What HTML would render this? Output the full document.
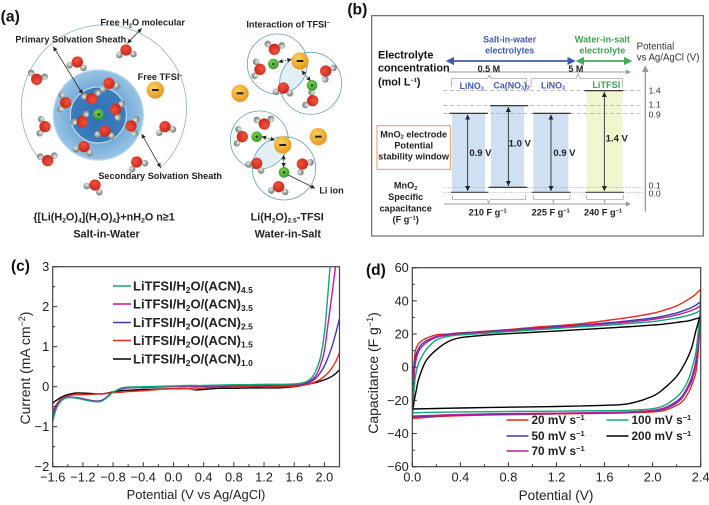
<!DOCTYPE html>
<html lang="en">
<head>
<meta charset="utf-8">
<title>Electrolyte figure</title>
<style>
html,body{margin:0;padding:0;background:#fff;}
body{width:709px;height:505px;overflow:hidden;}
svg{display:block;font-family:"Liberation Sans",sans-serif;}
.lbl{font-weight:bold;fill:#222;font-size:27.5px;}
.tick{font-size:12.8px;fill:#222;}
.title{font-size:13px;fill:#222;}
.ytitle{font-size:14px;fill:#222;}
.panel{font-size:15.5px;font-weight:bold;fill:#111;}
</style>
</head>
<body>
<svg id="fig" width="709" height="505" viewBox="0 0 709 505" xmlns="http://www.w3.org/2000/svg">
<defs>
<radialGradient id="gO" cx=".4" cy=".35" r=".7"><stop offset="0" stop-color="#f0523c"/><stop offset="1" stop-color="#c9251b"/></radialGradient>
<radialGradient id="gH" cx=".4" cy=".35" r=".7"><stop offset="0" stop-color="#e8ece9"/><stop offset="1" stop-color="#66716c"/></radialGradient>
<radialGradient id="gT" cx=".4" cy=".35" r=".7"><stop offset="0" stop-color="#fbd25c"/><stop offset="1" stop-color="#e5921c"/></radialGradient>
<radialGradient id="gL" cx=".4" cy=".35" r=".7"><stop offset="0" stop-color="#7fd048"/><stop offset="1" stop-color="#2e9a2c"/></radialGradient>
<radialGradient id="gDisc" cx=".5" cy=".5" r=".5"><stop offset="0" stop-color="#2f74b8"/><stop offset=".6" stop-color="#4f8fca"/><stop offset=".62" stop-color="#76acd9"/><stop offset="1" stop-color="#97c4e4"/></radialGradient>
<clipPath id="clipBubble1"><circle cx="832" cy="192" r="90"/></clipPath>
<clipPath id="clipBubble3"><circle cx="778" cy="420" r="87"/></clipPath>
<g id="water"><circle cx="-20" cy="15" r="10" fill="url(#gH)"/><circle cx="22" cy="12" r="10" fill="url(#gH)"/><circle r="17" fill="url(#gO)"/></g>
<g id="tfsi"><circle r="26" fill="url(#gT)"/><rect x="-10" y="-3" width="20" height="6" fill="#222"/></g>
<g id="li"><circle r="16" fill="url(#gL)"/><circle r="3.5" fill="#222"/></g>
<marker id="ah" markerWidth="7" markerHeight="7" refX="6" refY="3" orient="auto-start-reverse"><path d="M0 0L6 3L0 6z" fill="#222"/></marker>
<marker id="ahB" markerWidth="5" markerHeight="5" refX="4" refY="2.5" orient="auto-start-reverse"><path d="M0 0L5 2.5L0 5z" fill="#3f5bb0"/></marker>
<marker id="ahG" markerWidth="5" markerHeight="5" refX="4" refY="2.5" orient="auto-start-reverse"><path d="M0 0L5 2.5L0 5z" fill="#3fae55"/></marker>
<marker id="ahA" markerWidth="5" markerHeight="5" refX="4" refY="2.5" orient="auto-start-reverse"><path d="M0 0L5 2.5L0 5z" fill="#999"/></marker>
</defs>

<!-- Panel a -->
<g id="panel-a" transform="scale(.33333)">
<text x="2" y="64" font-size="47" font-weight="bold" fill="#111">(a)</text>
<path d="M120 480A248 248 0 1 1 480 505" fill="none" stroke="#8fb6c8" stroke-width="2.5"/>
<circle cx="295" cy="345" r="135" fill="url(#gDisc)" stroke="#b7d7ea" stroke-width="4"/>
<circle cx="295" cy="345" r="84" fill="#2f6fb4" fill-opacity=".6" stroke="#cfe4f2" stroke-width="3"/>
<circle cx="932" cy="250" r="93" fill="#e2eff6" clip-path="url(#clipBubble1)"/>
<circle cx="852" cy="505" r="95" fill="#e2eff6" clip-path="url(#clipBubble3)"/>
<g fill="none" stroke="#6f9fb8" stroke-width="2.5">
<circle cx="832" cy="192" r="90"/>
<circle cx="932" cy="250" r="93"/>
<circle cx="778" cy="420" r="87"/>
<circle cx="852" cy="505" r="95"/>
</g>
<g id="waters"></g>
<g>
<use href="#li" x="296" y="343"/><use href="#li" x="820" y="192"/><use href="#li" x="936" y="256"/><use href="#li" x="770" y="410"/><use href="#li" x="852" y="517"/>
<use href="#tfsi" x="466" y="270"/><use href="#tfsi" x="720" y="280"/><use href="#tfsi" x="900" y="183"/><use href="#tfsi" x="848" y="435"/><use href="#tfsi" x="955" y="410"/>
</g>
<g fill="none" stroke="#222" stroke-width="2.2" marker-end="url(#ah)">
<path d="M382 130L425 85" marker-start="url(#ah)"/>
<path d="M248 282L160 140" marker-start="url(#ah)"/>
<path d="M425 402L482 503" marker-start="url(#ah)"/>
<path d="M865 525L945 565"/>
<path d="M835 186L875 178" stroke-dasharray="4 3" marker-start="url(#ah)"/>
<path d="M905 212L932 243" stroke-dasharray="4 3" marker-start="url(#ah)"/>
<path d="M785 410L825 420" stroke-dasharray="4 3" marker-start="url(#ah)"/>
<path d="M851 465L851 502" stroke-dasharray="4 3" marker-start="url(#ah)"/>
</g>
<g class="lbl">
<text x="301" y="77">Free H<tspan font-size="17" dy="5">2</tspan><tspan dy="-5">O molecular</tspan></text>
<text x="46" y="128">Primary Solvation Sheath</text>
<text x="413" y="240">Free TFSI<tspan font-size="17" dy="-8">−</tspan></text>
<text x="295" y="537">Secondary Solvation Sheath</text>
<text x="739" y="82">Interaction of TFSI<tspan font-size="17" dy="-8">−</tspan></text>
<text x="958" y="580">Li ion</text>
<g font-size="32.5">
<text x="100" y="662">{[Li(H<tspan font-size="20" dy="6">2</tspan><tspan dy="-6">O)</tspan><tspan font-size="20" dy="6">4</tspan><tspan dy="-6">](H</tspan><tspan font-size="20" dy="6">2</tspan><tspan dy="-6">O)</tspan><tspan font-size="20" dy="6">4</tspan><tspan dy="-6">}+nH</tspan><tspan font-size="20" dy="6">2</tspan><tspan dy="-6">O n≥1</tspan></text>
<text x="220" y="713">Salt-in-Water</text>
<text x="752" y="662">Li(H<tspan font-size="20" dy="6">2</tspan><tspan dy="-6">O)</tspan><tspan font-size="20" dy="6">2.5</tspan><tspan dy="-6">-TFSI</tspan></text>
<text x="764" y="713">Water-in-Salt</text>
</g>
</g>
</g>

<!-- Panel b -->
<g id="panel-b" transform="translate(350,0) scale(.33333)">
<text x="-8" y="44" font-size="47" font-weight="bold" fill="#111">(b)</text>
<rect x="65" y="47" width="995" height="661" fill="#fff" stroke="#666" stroke-width="3.5"/>
<rect x="306" y="340" width="99" height="237" fill="#cfe0f3"/>
<rect x="423" y="317" width="99" height="245" fill="#cfe0f3"/>
<rect x="550" y="340" width="105" height="237" fill="#cfe0f3"/>
<rect x="710" y="272" width="107" height="305" fill="#f1f6cf"/>
<g stroke="#999" stroke-width="2" fill="none">
<path d="M280 272H880" stroke-dasharray="12 8"/>
<path d="M280 317H880" stroke-dasharray="12 8"/>
<path d="M280 340H880" stroke-dasharray="12 8"/>
<path d="M280 562H880" stroke-dasharray="3 4"/>
<path d="M280 577H880" stroke-dasharray="3 4"/>
<path d="M292 216H840" stroke-width="3" marker-end="url(#ahA)"/>
<path d="M282 612H840" stroke-width="3" marker-end="url(#ahA)"/>
<path d="M886 635V200" stroke-width="4" marker-end="url(#ahA)"/>
<path d="M305 262V236H412L418 226L424 236H530V262"/>
<path d="M543 262V236H678L684 222L690 236H818V262"/>
<path d="M307 585V598H412L416 610L420 598H527V585"/>
<path d="M550 585V598H608L610 610L612 598H660V585"/>
<path d="M710 585V598H762L764 610L766 598H820V585"/>
</g>
<g stroke="#222" stroke-width="3.5">
<path d="M298 340H414M420 317H535M548 340H662M703 272H820M416 562H532"/>
<path d="M303 577H415M545 577H662M706 577H822" stroke="#444"/>
</g>
<g stroke="#222" stroke-width="2.5" marker-start="url(#ah)" marker-end="url(#ah)">
<path d="M353 344V573"/><path d="M475 321V558"/><path d="M603 344V573"/><path d="M763 276V573"/>
</g>
<path d="M292 183H672" stroke="#3f5bb0" stroke-width="5" marker-start="url(#ahB)" marker-end="url(#ahB)"/>
<path d="M682 183H842" stroke="#3fae55" stroke-width="5" marker-start="url(#ahG)" marker-end="url(#ahG)"/>
<rect x="81" y="377" width="220" height="131" fill="#fff" stroke="#e8976a" stroke-width="3"/>
<g class="lbl">
<g font-size="32.5" fill="#111">
<text x="84" y="175">Electrolyte</text>
<text x="84" y="214">concentration</text>
<text x="84" y="256">(mol L<tspan font-size="17" dy="-10">−1</tspan><tspan dy="10">)</tspan></text>
</g>
<text x="383" y="216" font-size="27">0.5 M</text>
<text x="655" y="216" font-size="27">5 M</text>
<g text-anchor="middle" fill="#3f5bb0" font-size="26.5">
<text x="479" y="128">Salt-in-water</text>
<text x="479" y="161">electrolytes</text>
<text x="365" y="267">LiNO<tspan font-size="16" dy="4">3</tspan></text>
<text x="485" y="265">Ca(NO<tspan font-size="16" dy="4">3</tspan><tspan dy="-4">)</tspan><tspan font-size="16" dy="4">2</tspan></text>
<text x="609" y="265">LiNO<tspan font-size="16" dy="4">3</tspan></text>
</g>
<g text-anchor="middle" fill="#3fa04f" font-size="27.5">
<text x="757" y="128">Water-in-salt</text>
<text x="757" y="161">electrolyte</text>
<text x="769" y="264">LiTFSI</text>
</g>
<g text-anchor="middle">
<text x="191" y="412">MnO<tspan font-size="17" dy="4">2</tspan><tspan dy="-4"> electrode</tspan></text>
<text x="191" y="446">Potential</text>
<text x="191" y="478">stability window</text>
<text x="167" y="566">MnO<tspan font-size="17" dy="4">2</tspan></text>
<text x="167" y="600">Specific</text>
<text x="167" y="634">capacitance</text>
<text x="167" y="668">(F g<tspan font-size="17" dy="-9">−1</tspan><tspan dy="9">)</tspan></text>
</g>
<g font-size="28.5">
<text x="358" y="468">0.9 V</text>
<text x="476" y="440">1.0 V</text>
<text x="610" y="468">0.9 V</text>
<text x="767" y="424">1.4 V</text>
</g>
<text x="356" y="646">210 F g<tspan font-size="17" dy="-9">−1</tspan></text>
<text x="545" y="646">225 F g<tspan font-size="17" dy="-9">−1</tspan></text>
<text x="702" y="646">240 F g<tspan font-size="17" dy="-9">−1</tspan></text>
</g>
<g font-size="26" fill="#333">
<text x="860" y="148" font-size="29">Potential</text>
<text x="860" y="182" font-size="29">vs Ag/AgCl (V)</text>
<text x="896" y="281">1.4</text>
<text x="896" y="323">1.1</text>
<text x="896" y="353">0.9</text>
<text x="896" y="565">0.1</text>
<text x="896" y="589">0.0</text>
</g>
</g>

<g id="panel-c"></g>
<g id="panel-d"></g>
</svg>

<script>
// ---------- Panel (c) data ----------
var cPotential = [-1.6,-1.58,-1.55,-1.5,-1.45,-1.4,-1.3,-1.2,-1.1,-1.0,-0.95,-0.9,-0.85,-0.8,-0.7,-0.6,-0.4,-0.2,0,0.2,0.3,0.4,0.6,0.8,1.0,1.2,1.4,1.6,1.7,1.75,1.8,1.85,1.9,1.95,2.0,2.05,2.1,2.15,2.2];
var cColors = ['#10a878','#c0199c','#3c3ab0','#e8281e','#000000'];
var cGreen = [-0.88,-0.72,-0.54,-0.38,-0.3,-0.27,-0.28,-0.32,-0.36,-0.38,-0.36,-0.3,-0.22,-0.14,-0.04,-0.01,0,0.01,0.02,0.03,0.03,0.03,0.04,0.05,0.05,0.06,0.06,0.07,0.09,0.12,0.17,0.27,0.46,0.75,1.33,2.4,3.6,4.8,6];
var cMagenta = [-0.8,-0.66,-0.5,-0.37,-0.3,-0.27,-0.28,-0.31,-0.35,-0.37,-0.35,-0.29,-0.21,-0.14,-0.05,-0.02,-0.01,0,0.01,0.01,0,0.02,0.03,0.04,0.04,0.05,0.05,0.06,0.08,0.1,0.14,0.2,0.32,0.55,0.9,1.6,2.3,3.05,3.9];
var cBlue = [-0.75,-0.62,-0.48,-0.36,-0.29,-0.26,-0.27,-0.3,-0.34,-0.36,-0.34,-0.28,-0.2,-0.14,-0.06,-0.03,-0.02,-0.01,0,0,-0.01,0.01,0.02,0.03,0.03,0.03,0.04,0.04,0.06,0.08,0.11,0.16,0.24,0.36,0.52,0.74,1.0,1.33,1.7];
var cRed = [-0.62,-0.55,-0.44,-0.33,-0.27,-0.23,-0.2,-0.2,-0.19,-0.18,-0.18,-0.17,-0.16,-0.15,-0.14,-0.12,-0.1,-0.07,-0.05,-0.05,-0.06,-0.03,-0.01,0,0.01,0.01,0.01,0.01,0.03,0.05,0.07,0.1,0.14,0.19,0.26,0.35,0.47,0.63,0.85];
var cBlack = [-0.42,-0.38,-0.34,-0.28,-0.23,-0.2,-0.16,-0.16,-0.17,-0.18,-0.18,-0.17,-0.15,-0.13,-0.1,-0.09,-0.07,-0.06,-0.05,-0.05,-0.08,-0.07,-0.04,-0.04,-0.03,-0.03,-0.03,0,0.03,0.05,0.07,0.09,0.11,0.14,0.17,0.21,0.26,0.33,0.42];
var cSeries = [cBlack,cRed,cBlue,cMagenta,cGreen];
var cSeriesColors = ['#000000','#e8281e','#3c3ab0','#c0199c','#10a878'];
var cXTicks = [-1.6,-1.2,-0.8,-0.4,0,0.4,0.8,1.2,1.6,2.0];
var cYTicks = [-2,-1,0,1,2,3];
var cXLabels = ['−1.6','−1.2','−0.8','−0.4','0.0','0.4','0.8','1.2','1.6','2.0'];
var cYLabels = ['−2','−1','0','1','2','3'];

// ---------- Panel (d) data ----------
var dUpperV = [0,0.005,0.01,0.02,0.03,0.05,0.08,0.12,0.2,0.3,0.4,0.6,0.8,1.0,1.2,1.4,1.6,1.8,2.0,2.1,2.2,2.3,2.35,2.4];
var dLowerV = [2.4,2.39,2.38,2.36,2.33,2.3,2.25,2.2,2.1,2.0,1.8,1.6,1.2,0.8,0.4,0.2,0];
var dNames = ['20 mV s','50 mV s','70 mV s','100 mV s','200 mV s'];
var dUp20 = [-31,-18,-3,7,11,14,16,17.5,19.5,20,20.7,21.6,22.7,24,25,26.2,28,30,32.5,34.5,37,41,43.5,47];
var dUp50 = [-30,-20,-9,2,7,11,14,16,18.5,19.7,20.4,21.4,22.4,23.4,24.4,25.4,26.6,28,29.7,31,32.7,35.2,37,39.5];
var dUp70 = [-29.5,-21,-12,-1,4,9,12.5,15,18,19.3,20,21,22,23,24,25,26,27.2,28.8,30,31.5,33.6,35,37];
var dUp100 = [-27.5,-24,-19,-9,-4,2,6.5,11,16.5,18.6,19.5,20.4,21.4,22.4,23.4,24.4,25.2,26.3,27.5,28.5,29.7,31.3,32.5,34.2];
var dUp200 = [-25,-24.5,-23,-18.5,-15,-8,-1.5,4.5,10.5,15.5,17.8,19.3,20.2,21,21.8,22.7,23.5,24.4,25.4,26,27,28,29,30];
var dLo20 = [47,22,10,-3,-10,-15,-20.5,-23,-26,-27,-27.5,-27.8,-28.2,-28.6,-29.2,-29.8,-31];
var dLo50 = [39.5,25,13,2,-7,-12,-18,-21.5,-25,-26.3,-27.2,-27.5,-27.9,-28.3,-28.8,-29.3,-30];
var dLo70 = [37,27,15,4,-5,-10.5,-17,-20.5,-24.5,-26,-27,-27.3,-27.7,-28,-28.5,-29,-29.5];
var dLo100 = [34.2,30,22,9,0,-7,-14,-18,-23,-25,-26,-26.2,-26.5,-26.7,-27,-27.2,-27.5];
var dLo200 = [30,30,27,22,13,7,0,-5.5,-12.5,-17.5,-22,-23,-23.7,-24.1,-24.6,-24.9,-25.2];
var dUppers = [dUp20,dUp50,dUp70,dUp100,dUp200];
var dLowers = [dLo20,dLo50,dLo70,dLo100,dLo200];
var dColors = ['#e8281e','#3c3ab0','#c0199c','#10a878','#000000'];
var dXTicks = [0,0.4,0.8,1.2,1.6,2.0,2.4];
var dYTicks = [-60,-40,-20,0,20,40,60];
var dXLabels = ['0.0','0.4','0.8','1.2','1.6','2.0','2.4'];
var dYLabels = ['−60','−40','−20','0','20','40','60'];

// ---------- Panel (a) molecule list ----------
var waterSites = [[378,150,0],[232,186,15],[110,238,200],[135,380,100],[143,482,180],[285,555,30],[410,486,-20],[495,380,-10],[327,250,-10],[197,308,100],[275,296,170],[347,328,-70],[247,365,150],[315,393,10],[393,378,-80],[252,440,20],[823,148,190],[780,208,100],[977,213,-50],[850,264,10],[938,302,120],[793,372,180],[727,410,100],[770,490,30],[907,492,-40],[836,560,10]];

var NS = 'http://www.w3.org/2000/svg';
function mk(tag, attrs, parent, text) {
  var el = document.createElementNS(NS, tag);
  for (var k in attrs) el.setAttribute(k, attrs[k]);
  if (text !== undefined) el.textContent = text;
  parent.appendChild(el);
  return el;
}

var watersGroup = document.getElementById('waters');
waterSites.forEach(function (w) {
  var u = mk('use', {href: '#water', transform: 'translate(' + w[0] + ',' + w[1] + ') rotate(' + w[2] + ')'}, watersGroup);
  
  
});

function axes(box, xMin, xMax, yMin, yMax) {
  return {
    x: function (v) { return box.l + (v - xMin) / (xMax - xMin) * (box.r - box.l); },
    y: function (v) { return box.b - (v - yMin) / (yMax - yMin) * (box.b - box.t); }
  };
}

// Smooth path through the points (Catmull-Rom converted to cubic Beziers)
function smoothPath(pts) {
  var d = 'M' + pts[0][0].toFixed(2) + ' ' + pts[0][1].toFixed(2);
  for (var i = 0; i < pts.length - 1; i++) {
    var p0 = pts[Math.max(i - 1, 0)], p1 = pts[i], p2 = pts[i + 1], p3 = pts[Math.min(i + 2, pts.length - 1)];
    var c1x = p1[0] + (p2[0] - p0[0]) / 6, c1y = p1[1] + (p2[1] - p0[1]) / 6;
    var c2x = p2[0] - (p3[0] - p1[0]) / 6, c2y = p2[1] - (p3[1] - p1[1]) / 6;
    d += 'C' + c1x.toFixed(2) + ' ' + c1y.toFixed(2) + ' ' + c2x.toFixed(2) + ' ' + c2y.toFixed(2) + ' ' + p2[0].toFixed(2) + ' ' + p2[1].toFixed(2);
  }
  return d;
}

function drawFrame(root, box, ax, xTicks, yTicks, xLabels, yLabels) {
  var frame = mk('rect', {x: box.l, y: box.t, width: box.r - box.l, height: box.b - box.t, fill: 'none', stroke: '#444', 'stroke-width': 1.2}, root);
  
  
  xTicks.forEach(function (v, i) {
    var px = ax.x(v);
    var t = mk('line', {x1: px, x2: px, y1: box.b, y2: box.b - 4.5, stroke: '#333', 'stroke-width': 1}, root);
    
    
    var lab = mk('text', {x: px, y: box.b + 15, 'text-anchor': 'middle', 'class': 'tick'}, root, xLabels[i]);
    
    
    if (i < xTicks.length - 1) {
      var mx = ax.x((v + xTicks[i + 1]) / 2);
      var m = mk('line', {x1: mx, x2: mx, y1: box.b, y2: box.b - 2.5, stroke: '#333', 'stroke-width': 1}, root);
      
      
    }
  });
  yTicks.forEach(function (v, i) {
    var py = ax.y(v);
    var t = mk('line', {x1: box.l, x2: box.l + 4.5, y1: py, y2: py, stroke: '#333', 'stroke-width': 1}, root);
    
    
    var lab = mk('text', {x: box.l - 3.5, y: py + 4.5, 'text-anchor': 'end', 'class': 'tick'}, root, yLabels[i]);
    
    
    if (i < yTicks.length - 1) {
      var my = ax.y((v + yTicks[i + 1]) / 2);
      var m = mk('line', {x1: box.l, x2: box.l + 2.5, y1: my, y2: my, stroke: '#333', 'stroke-width': 1}, root);
      
      
    }
  });
}

function mkClip(id, box) {
  var defs = document.querySelector('#fig defs');
  var c = mk('clipPath', {id: id}, defs);
  mk('rect', {x: box.l, y: box.t, width: box.r - box.l, height: box.b - box.t}, c);
}

// ---------- Draw panel (c) ----------
(function () {
  var root = document.getElementById('panel-c');
  var box = {l: 52.7, r: 339.5, t: 266.7, b: 466.7};
  var ax = axes(box, -1.6, 2.2, -2, 3);
  mkClip('clipC', box);
  cSeries.forEach(function (vals, s) {
    var pts = vals.map(function (v, i) { return [ax.x(cPotential[i]), ax.y(v)]; });
    var p = mk('path', {d: smoothPath(pts), fill: 'none', stroke: cSeriesColors[s], 'stroke-width': 1.4, 'stroke-linejoin': 'round', 'clip-path': 'url(#clipC)'}, root);
    
    
  });
  drawFrame(root, box, ax, cXTicks, cYTicks, cXLabels, cYLabels);
  var legendRowY = [286, 304, 322.5, 340.5, 359];
  var legendSubs = ['4.5', '3.5', '2.5', '1.5', '1.0'];
  cColors.forEach(function (col, i) {
    var l = mk('line', {x1: 113, x2: 131, y1: legendRowY[i], y2: legendRowY[i], stroke: col, 'stroke-width': 1.4}, root);
    
    
    var t = mk('text', {x: 133, y: legendRowY[i] + 4.5, 'font-size': 13, 'font-weight': 'bold', fill: '#222'}, root, 'LiTFSI/H');
    
    
    mk('tspan', {'font-size': 8.5, dy: 2.5}, t, '2');
    mk('tspan', {dy: -2.5}, t, 'O/(ACN)');
    mk('tspan', {'font-size': 8.5, dy: 2.5}, t, legendSubs[i]);
  });
  var xt = mk('text', {x: 196, y: 499, 'text-anchor': 'middle', 'class': 'title'}, root, 'Potential (V vs Ag/AgCl)');
  
  
  var yt = mk('text', {transform: 'translate(30,368) rotate(-90)', 'text-anchor': 'middle', 'class': 'ytitle'}, root, 'Current (mA cm');
  
  
  mk('tspan', {'font-size': 9, dy: -5}, yt, '−2');
  mk('tspan', {dy: 5}, yt, ')');
  var pl = mk('text', {x: 11, y: 271, 'class': 'panel'}, root, '(c)');
  
  
})();

// ---------- Draw panel (d) ----------
(function () {
  var root = document.getElementById('panel-d');
  var box = {l: 412.3, r: 700.7, t: 267.7, b: 466.7};
  var ax = axes(box, 0, 2.4, -60, 60);
  mkClip('clipD', box);
  dUppers.forEach(function (up, s) {
    var pts = up.map(function (v, i) { return [ax.x(dUpperV[i]), ax.y(v)]; });
    dLowers[s].forEach(function (v, i) { pts.push([ax.x(dLowerV[i]), ax.y(v)]); });
    var p = mk('path', {d: smoothPath(pts), fill: 'none', stroke: dColors[s], 'stroke-width': 1.4, 'stroke-linejoin': 'round', 'clip-path': 'url(#clipD)'}, root);
    
    
  });
  drawFrame(root, box, ax, dXTicks, dYTicks, dXLabels, dYLabels);
  var legX = [506.5, 506.5, 506.5, 606.5, 606.5];
  var legY = [420, 436, 451, 420, 436];
  dColors.forEach(function (col, i) {
    var l = mk('line', {x1: legX[i], x2: legX[i] + 22, y1: legY[i], y2: legY[i], stroke: col, 'stroke-width': 1.4}, root);
    
    
    var t = mk('text', {x: legX[i] + 25, y: legY[i] + 4.2, 'font-size': 11.8, 'font-weight': 'bold', fill: '#222'}, root, dNames[i]);
    
    
    mk('tspan', {'font-size': 7.5, dy: -4}, t, '−1');
  });
  var xt = mk('text', {x: 556, y: 500, 'text-anchor': 'middle', 'class': 'title', style: 'font-size:13.6px'}, root, 'Potential (V)');
  
  
  var yt = mk('text', {transform: 'translate(378,373) rotate(-90)', 'text-anchor': 'middle', 'class': 'ytitle'}, root, 'Capacitance (F g');
  
  
  mk('tspan', {'font-size': 9, dy: -5}, yt, '−1');
  mk('tspan', {dy: 5}, yt, ')');
  var pl = mk('text', {x: 366, y: 275, 'class': 'panel'}, root, '(d)');
  
  
})();
</script>
</body>
</html>
